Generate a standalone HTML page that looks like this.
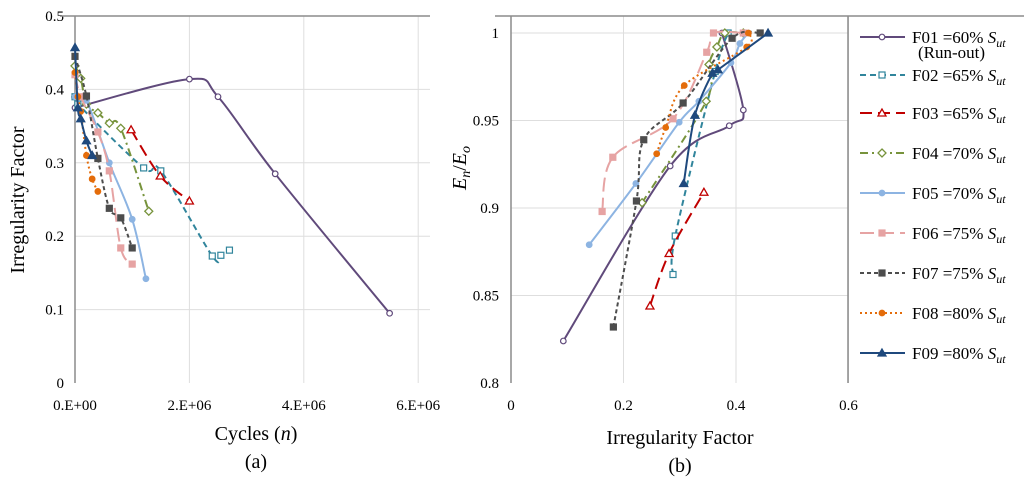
<!DOCTYPE html>
<html><head><meta charset="utf-8">
<style>
body{margin:0;background:#fff;width:1024px;height:482px;overflow:hidden;font-family:"Liberation Serif",serif;}
svg text{font-family:"Liberation Serif",serif;fill:#000;}
</style></head>
<body>
<svg id="chart" width="1024" height="482" viewBox="0 0 1024 482" xmlns="http://www.w3.org/2000/svg">
<g id="left"></g>
<g id="right"></g>
<g id="legend"></g>
</svg>
<script>
const seriesNames = ["F01 =60% ","F02 =65% ","F03 =65% ","F04 =70% ","F05 =70% ","F06 =75% ","F07 =75% ","F08 =80% ","F09 =80% "];
const seriesColors = ["#604a7b","#31859c","#c00000","#77933c","#8db4e2","#e6a3a3","#4d4d4d","#e46c0a","#1f497d"];
// left: cycles (x1e6) and irregularity factor
const leftCycles = [
 [0,2.0,2.5,3.5,5.5],
 [0,0.05,1.2,1.5,2.4,2.55,2.7],
 [0.98,1.49,2.0],
 [0,0.1,0.2,0.4,0.6,0.8,1.29],
 [0,0.2,0.6,1.0,1.24],
 [0,0.1,0.4,0.6,0.8,1.0],
 [0,0.2,0.4,0.6,0.8,1.0],
 [0,0.05,0.1,0.2,0.3,0.4],
 [0,0.05,0.1,0.2,0.3]
];
const leftIF = [
 [0.375,0.414,0.39,0.285,0.095],
 [0.39,0.38,0.293,0.289,0.173,0.174,0.181],
 [0.345,0.282,0.248],
 [0.432,0.415,0.38,0.368,0.354,0.347,0.234],
 [0.39,0.385,0.3,0.223,0.142],
 [0.42,0.39,0.342,0.289,0.184,0.162],
 [0.445,0.391,0.306,0.238,0.225,0.184],
 [0.423,0.39,0.37,0.31,0.278,0.261],
 [0.457,0.375,0.36,0.33,0.31]
];
// right: irregularity factor vs En/Eo
const rightIF = [
 [0.093,0.283,0.388,0.413,0.375],
 [0.288,0.292,0.363,0.386],
 [0.247,0.281,0.343],
 [0.233,0.347,0.352,0.366,0.38,0.413],
 [0.139,0.222,0.299,0.334,0.391,0.407,0.422],
 [0.162,0.181,0.288,0.348,0.36,0.413],
 [0.182,0.223,0.236,0.306,0.393,0.443],
 [0.259,0.275,0.308,0.419,0.422],
 [0.307,0.327,0.358,0.368,0.457]
];
const rightEn = [
 [0.824,0.924,0.947,0.956,1.0],
 [0.862,0.884,0.978,1.0],
 [0.844,0.874,0.909],
 [0.903,0.961,0.982,0.992,1.0,1.0],
 [0.879,0.914,0.949,0.961,0.983,0.994,1.0],
 [0.898,0.929,0.951,0.989,1.0,1.0],
 [0.832,0.904,0.939,0.96,0.997,1.0],
 [0.931,0.946,0.97,0.992,1.0],
 [0.914,0.953,0.977,0.979,1.0]
];
const leftYTicks = ["0","0.1","0.2","0.3","0.4","0.5"];
const leftXTicks = ["0.E+00","2.E+06","4.E+06","6.E+06"];
const rightYTicks = ["0.8","0.85","0.9","0.95","1"];
const rightXTicks = ["0","0.2","0.4","0.6"];

const dashes=["","6,4","12,6","8,4,2,4","","14,6","4,3","2,3",""];
const markers=["circleO","squareO","triO","diamondO","circle","square","square","circle","tri"];
const NS="http://www.w3.org/2000/svg";
function mk(tag,attrs,parent){const e=document.createElementNS(NS,tag);for(const k in attrs)e.setAttribute(k,attrs[k]);parent.appendChild(e);return e;}

const lx=v=>75+v*57.2, ly=v=>383-v*734;
const rx=v=>511+v*562.5, ry=v=>383-(v-0.8)*1750;

function smooth(pts){
  if(pts.length<3){return "M"+pts.map(p=>p.join(",")).join("L");}
  let d="M"+pts[0][0]+","+pts[0][1];
  for(let i=0;i<pts.length-1;i++){
    const p0=pts[i-1]||pts[i],p1=pts[i],p2=pts[i+1],p3=pts[i+2]||p2;
    const t=0.5/3;
    d+=" C"+(p1[0]+(p2[0]-p0[0])*t)+","+(p1[1]+(p2[1]-p0[1])*t)+" "+(p2[0]-(p3[0]-p1[0])*t)+","+(p2[1]-(p3[1]-p1[1])*t)+" "+p2[0]+","+p2[1];
  }
  return d;
}
function marker(g,type,x,y,c){
  const open=type.endsWith("O");const f=open?"#fff":c;
  let e;
  if(type.startsWith("circle")) e=mk("circle",{cx:x,cy:y,r:2.8,fill:f,stroke:c,"stroke-width":1.2},g);
  else if(type.startsWith("square")) e=mk("rect",{x:x-3,y:y-3,width:6,height:6,fill:f,stroke:c,"stroke-width":1.2},g);
  else if(type.startsWith("tri")) e=mk("polygon",{points:`${x},${y-4} ${x-4},${y+3} ${x+4},${y+3}`,fill:f,stroke:c,"stroke-width":1.3},g);
  else e=mk("polygon",{points:`${x},${y-4} ${x+4},${y} ${x},${y+4} ${x-4},${y}`,fill:f,stroke:c,"stroke-width":1.3},g);
  
  
}
function drawSeries(g,xs,ys,fx,fy,i){
  const pts=xs.map((v,k)=>[fx(v),fy(ys[k])]);
  const p=mk("path",{d:smooth(pts),fill:"none",stroke:seriesColors[i],"stroke-width":2,"stroke-dasharray":dashes[i]},g);
  
  
  pts.forEach(q=>marker(g,markers[i],q[0],q[1],seriesColors[i]));
}
// left axes
const L=document.getElementById("left");
leftYTicks.forEach((t,k)=>{const y=ly(k*0.1);
  if(k>0){const gl=mk("line",{x1:75,x2:430,y1:y,y2:y,stroke:"#dedede"},L);}
  const tx=mk("text",{x:64,y:y+5,"text-anchor":"end","font-size":15},L);tx.textContent=t;
  });
leftXTicks.forEach((t,k)=>{const x=lx(k*2);
  if(k>0){const gl=mk("line",{x1:x,x2:x,y1:16,y2:383,stroke:"#dedede"},L);}
  const tx=mk("text",{x:x,y:410,"text-anchor":"middle","font-size":15},L);tx.textContent=t;
  });
mk("line",{x1:60,x2:430,y1:16,y2:16,stroke:"#8c8c8c","stroke-width":1.5},L);
mk("line",{x1:75,x2:75,y1:16,y2:383,stroke:"#8c8c8c","stroke-width":1.5},L);
// right axes
const R=document.getElementById("right");
rightYTicks.forEach((t,k)=>{const y=ry(0.8+k*0.05);
  if(k>0){const gl=mk("line",{x1:511,x2:848,y1:y,y2:y,stroke:"#dedede"},R);}
  const tx=mk("text",{x:499,y:y+5,"text-anchor":"end","font-size":15},R);tx.textContent=t;
  });
rightXTicks.forEach((t,k)=>{const x=rx(k*0.2);
  if(k>0){const gl=mk("line",{x1:x,x2:x,y1:16,y2:383,stroke:"#dedede"},R);}
  const tx=mk("text",{x:x,y:410,"text-anchor":"middle","font-size":15},R);tx.textContent=t;
  });
mk("line",{x1:495,x2:1024,y1:16,y2:16,stroke:"#8c8c8c","stroke-width":1.5},R);
mk("line",{x1:511,x2:511,y1:16,y2:383,stroke:"#8c8c8c","stroke-width":1.5},R);
mk("line",{x1:848,x2:848,y1:16,y2:383,stroke:"#8c8c8c","stroke-width":1.5},R);

for(let i=0;i<9;i++){drawSeries(L,leftCycles[i],leftIF[i],lx,ly,i);drawSeries(R,rightIF[i],rightEn[i],rx,ry,i);}

// legend
const G=document.getElementById("legend");
const legY=[37,75,113,153,193,233,273,313,353];
seriesNames.forEach((n,i)=>{
  const g=mk("g",{},G);
  
  
  const y=legY[i];
  mk("line",{x1:860,x2:905,y1:y,y2:y,stroke:seriesColors[i],"stroke-width":2,"stroke-dasharray":dashes[i]},g);
  marker(g,markers[i],882,y,seriesColors[i]);
  const t=mk("text",{x:912,y:y+6,"font-size":17},g);
  t.innerHTML=n+'<tspan font-style="italic">S</tspan><tspan font-style="italic" font-size="12" dy="4">ut</tspan>';
});
const ro=mk("text",{x:918,y:58,"font-size":17},G);ro.textContent="(Run-out)";

</script>
<div style="position:absolute;left:0;top:0;width:1024px;height:482px;pointer-events:none">
<svg width="1024" height="482" xmlns="http://www.w3.org/2000/svg">
<text transform="translate(24,200) rotate(-90)" text-anchor="middle" font-size="20" font-family="Liberation Serif, serif">Irregularity Factor</text>
<text x="256" y="440" text-anchor="middle" font-size="20" font-family="Liberation Serif, serif">Cycles (<tspan font-style="italic">n</tspan>)</text>
<text x="256" y="468" text-anchor="middle" font-size="20" font-family="Liberation Serif, serif">(a)</text>
<text transform="translate(466,168) rotate(-90)" text-anchor="middle" font-size="20" font-family="Liberation Serif, serif" font-style="italic">E<tspan font-size="14" dy="4">n</tspan><tspan dy="-4" font-style="normal">/</tspan>E<tspan font-size="14" dy="4">o</tspan></text>
<text x="680" y="444" text-anchor="middle" font-size="20" font-family="Liberation Serif, serif">Irregularity Factor</text>
<text x="680" y="472" text-anchor="middle" font-size="20" font-family="Liberation Serif, serif">(b)</text>
</svg></div>
</body></html>
